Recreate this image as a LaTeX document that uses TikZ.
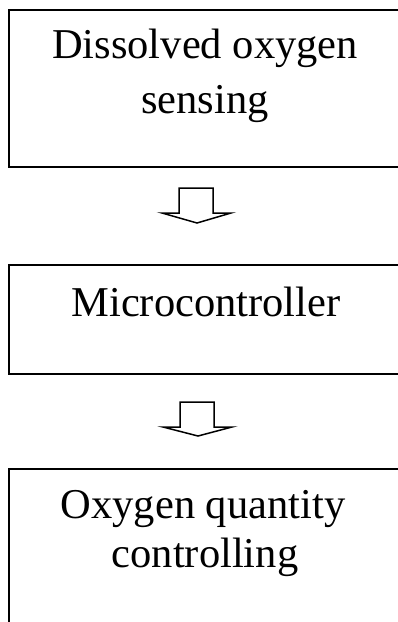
\documentclass[tikz,border=0pt]{standalone}
\usepackage{fontspec}
\setmainfont{Liberation Serif}
\begin{document}
\begin{tikzpicture}[x=1pt,y=-1pt,
  box/.style={draw, line width=1.5pt, rectangle, anchor=north west, inner sep=0pt, outer sep=0pt},
  lbl/.style={anchor=base, font=\fontsize{42.5}{57}\selectfont, inner sep=0pt},
  blockarrow/.style={draw, line width=1.5pt, line join=miter}]
\useasboundingbox (0,0) rectangle (398,622);
\node[box, minimum width=392pt, minimum height=157pt] (b1) at (9,10) {};
\node[box, minimum width=392pt, minimum height=109pt] (b2) at (9,265) {};
\node[box, minimum width=392pt, minimum height=200pt] (b3) at (9,469) {};
\node[lbl] (t1a) at (205,58) {Dissolved oxygen};
\node[lbl] (t1b) at (205,113) {sensing};
\node[lbl] (t2) at (206,316) {Microcontroller};
\node[lbl] (t3a) at (203,518) {Oxygen quantity};
\node[lbl] (t3b) at (205,567) {controlling};
\coordinate (a1) at (179,188);
\coordinate (a2) at (180,402);
\draw[blockarrow] (a1) -- ++(34,0) -- ++(0,25) -- ++(18,0) -- ++(-34,10) -- ++(-35,-10) -- ++(17,0) -- cycle;
\draw[blockarrow] (a2) -- ++(34,0) -- ++(0,25) -- ++(18,0) -- ++(-34,9) -- ++(-35,-9) -- ++(17,0) -- cycle;
\end{tikzpicture}
\end{document}
